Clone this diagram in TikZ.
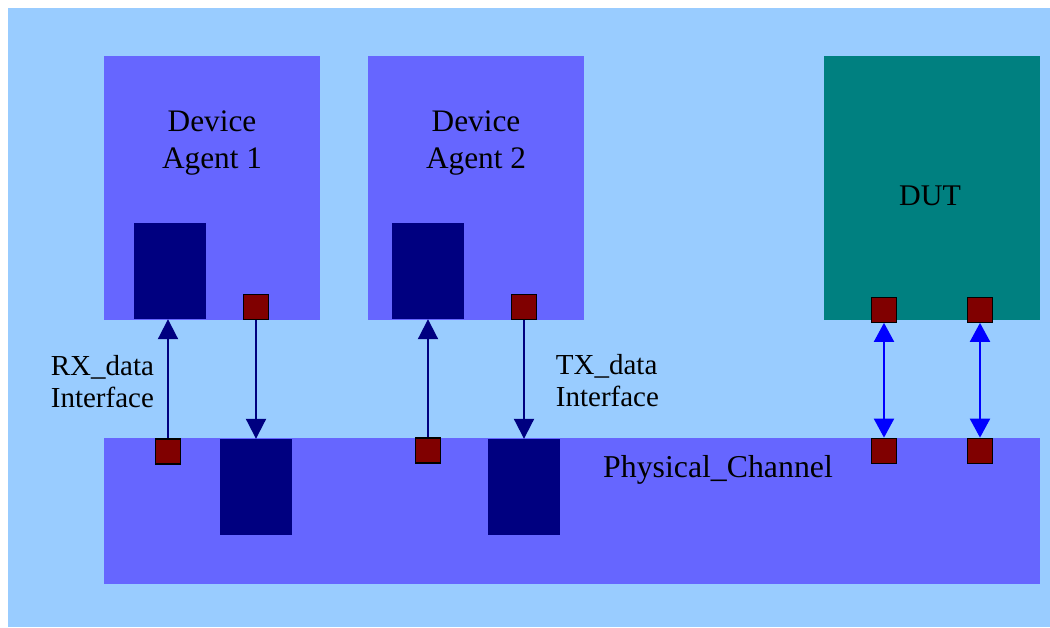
\documentclass[tikz,border=0pt]{standalone}
\usepackage{fontspec}
\setmainfont{Liberation Serif}
\usetikzlibrary{arrows.meta}
\definecolor{bgblue}{HTML}{99CCFF}
\definecolor{peri}{HTML}{6666FF}
\definecolor{navyc}{HTML}{000080}
\definecolor{tealc}{HTML}{008080}
\definecolor{maroonc}{HTML}{800000}
\definecolor{bluec}{HTML}{0000FF}
\tikzset{
  bigbox/.style={fill=peri, inner sep=0, minimum width=216pt, minimum height=264pt},
  darkbox/.style={fill=navyc, inner sep=0, minimum width=72pt, minimum height=96pt},
  port/.style={fill=maroonc, draw=black, line width=1.3pt, inner sep=0, minimum size=25pt},
  lbl/.style={font=\fontsize{31.3}{37.6}\selectfont, inner sep=0, text=black},
  lbl2/.style={font=\fontsize{29}{32}\selectfont, inner sep=0, text=black, align=left},
  navyarrow/.style={draw=navyc, line width=2pt, -{Triangle[width=20pt,length=20pt]}},
  bluearrow/.style={draw=bluec, line width=2pt, {Triangle[width=20pt,length=19pt]}-{Triangle[width=20pt,length=19pt]}}
}
\begin{document}
\begin{tikzpicture}[x=1pt,y=-1pt]
\useasboundingbox (0,0) rectangle (1050,627);
\fill[white] (0,0) rectangle (1050,627);
\fill[bgblue] (8,8) rectangle (1050,627);
% boxes
\node[bigbox] (da1) at (212,188) {};
\node[bigbox] (da2) at (476,188) {};
\node[bigbox, fill=tealc] (dut) at (932,188) {};
\node[fill=peri, inner sep=0, minimum width=936pt, minimum height=146pt] (pc) at (572,511) {};
% dark blocks
\node[darkbox] (da1d) at (170,271) {};
\node[darkbox] (da2d) at (428,271) {};
\node[darkbox] (pcd1) at (256,487) {};
\node[darkbox] (pcd2) at (524,487) {};
% ports
\node[port] (da1r) at (256,307.3) {};
\node[port] (da2r) at (524,307.3) {};
\node[port] (dutr1) at (884,309.7) {};
\node[port] (dutr2) at (980,309.7) {};
\node[port] (pcr1) at (168,451.5) {};
\node[port] (pcr2) at (428,450.5) {};
\node[port] (pcr3) at (884,450.8) {};
\node[port] (pcr4) at (980,450.8) {};
% labels
\node[lbl, align=center] (da1t) at (212,143.2) {Device\\Agent 1};
\node[lbl, align=center] (da2t) at (476,143.2) {Device\\Agent 2};
\node[lbl, font=\fontsize{30}{36}\selectfont, anchor=base] (dutt) at (930,205) {DUT};
\node[lbl, font=\fontsize{31.8}{38}\selectfont, anchor=base west] (pct) at (603,477.7) {Physical\_Channel};
\node[lbl2, anchor=west] (rxt) at (50.7,381.1) {RX\_data\\Interface};
\node[lbl2, anchor=west] (txt) at (555.7,380.6) {TX\_data\\Interface};
% connectors
\draw[navyarrow] (pcr1.north) -- (pcr1.north |- da1d.south);
\draw[navyarrow] (da1r.south) -- (da1r.south |- pcd1.north);
\draw[navyarrow] (pcr2.north) -- (pcr2.north |- da2d.south);
\draw[navyarrow] (da2r.south) -- (da2r.south |- pcd2.north);
\draw[bluearrow] (dutr1.south) -- (pcr3.north);
\draw[bluearrow] (dutr2.south) -- (pcr4.north);
\end{tikzpicture}
\end{document}
